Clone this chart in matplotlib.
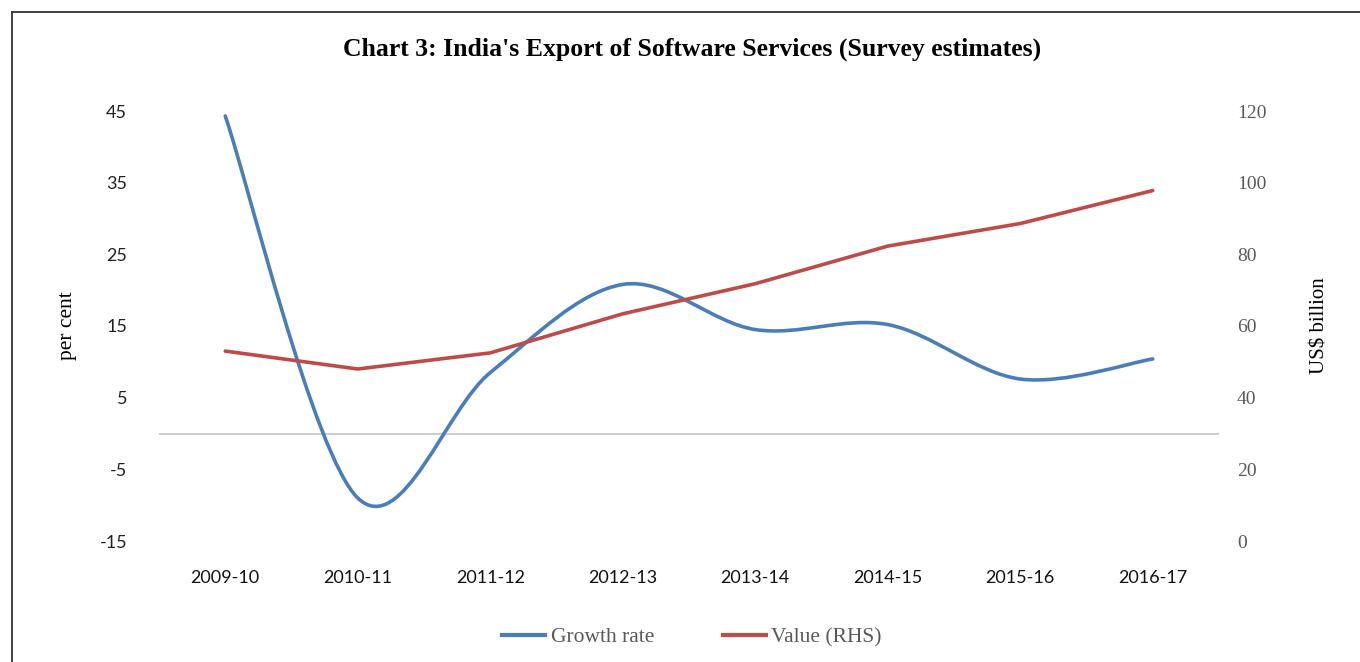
import matplotlib.pyplot as plt
import matplotlib as mpl
from matplotlib.path import Path
from matplotlib.patches import PathPatch
from matplotlib.lines import Line2D
import numpy as np

mpl.rcParams['axes.unicode_minus'] = False

# data
years = ['2009-10', '2010-11', '2011-12', '2012-13', '2013-14', '2014-15', '2015-16', '2016-17']
growth = [44.3, -9.0, 8.5, 20.8, 14.5, 15.2, 7.6, 10.4]      # per cent
value = [53.0, 48.0, 52.5, 63.4, 71.8, 82.3, 88.6, 97.8]      # US$ billion (RHS)
left_ticks = [-15, -5, 5, 15, 25, 35, 45]
right_ticks = [0, 20, 40, 60, 80, 100, 120]

blue = '#4a7ebb'
red = '#be4b48'
serif = 'Liberation Serif'
sans = 'Lato'


def smooth_path(xs, ys):
    # excel-like smoothed line: cubic bezier through the points (catmull-rom)
    pts = np.column_stack([xs, ys]).astype(float)
    n = len(pts)
    verts = [pts[0]]
    codes = [Path.MOVETO]
    for i in range(n - 1):
        p0 = pts[i - 1] if i > 0 else pts[i]
        p1 = pts[i]
        p2 = pts[i + 1]
        p3 = pts[i + 2] if i + 2 < n else pts[i + 1]
        c1 = p1 + (p2 - p0) / 6.0
        c2 = p2 - (p3 - p1) / 6.0
        verts += [c1, c2, p2]
        codes += [Path.CURVE4] * 3
    return Path(verts, codes)


fig = plt.figure(figsize=(13.6, 6.62), dpi=100)
ax = fig.add_axes([159/1360, 1 - 541/662, 1060/1360, 430/662])
x = np.arange(len(years))

ax.set_xlim(-0.5, len(years) - 0.5)
ax.set_ylim(-15, 45)
ax.set_yticks(left_ticks)
ax.set_xticks(x)
ax.set_xticklabels(years)
ax.axhline(0, color='#c9c9c9', lw=1.3, zorder=1)
for s in ax.spines.values():
    s.set_visible(False)
ax.tick_params(axis='y', length=0, pad=23, labelsize=13, labelcolor='#222222')
ax.tick_params(axis='x', length=0, pad=21, labelsize=13, labelcolor='#111111')
for lab in ax.get_yticklabels() + ax.get_xticklabels():
    lab.set_family(sans)
ax.set_ylabel('per cent', family=serif, fontsize=15.5, labelpad=16)

ax.add_patch(PathPatch(smooth_path(x, growth), fill=False, edgecolor=blue,
                       lw=2.6, capstyle='round', zorder=3))

ax2 = ax.twinx()
ax2.set_ylim(0, 120)
ax2.set_yticks(right_ticks)
for s in ax2.spines.values():
    s.set_visible(False)
ax2.tick_params(axis='y', length=0, pad=13, labelsize=14, labelcolor='#595959')
for lab in ax2.get_yticklabels():
    lab.set_family(serif)
ax2.set_ylabel('US$ billion', family=serif, fontsize=15, labelpad=32)
ax2.plot(x, value, color=red, lw=2.6, solid_capstyle='round', solid_joinstyle='round')

fig.text(692/1360, 1 - 49/662, "Chart 3: India's Export of Software Services (Survey estimates)",
         ha='center', va='center', family=serif, fontweight='bold', fontsize=18.5)

handles = [Line2D([], [], color=blue, lw=3), Line2D([], [], color=red, lw=3)]
leg = fig.legend(handles, ['Growth rate', 'Value (RHS)'], loc='center',
                 bbox_to_anchor=(692/1360, 1 - 637/662), ncol=2, frameon=False,
                 prop={'family': serif, 'size': 15.5}, handlelength=2.0,
                 handletextpad=0.25, columnspacing=3.2, labelcolor='#595959')

# outer frame (only top and left visible in the crop)
fig.add_artist(Line2D([12/1360, 12/1360], [0, 1 - 12/662], color='#333333', lw=1.3))
fig.add_artist(Line2D([12/1360, 1], [1 - 12/662, 1 - 12/662], color='#333333', lw=1.3))

fig.savefig('out.png', dpi=100)
